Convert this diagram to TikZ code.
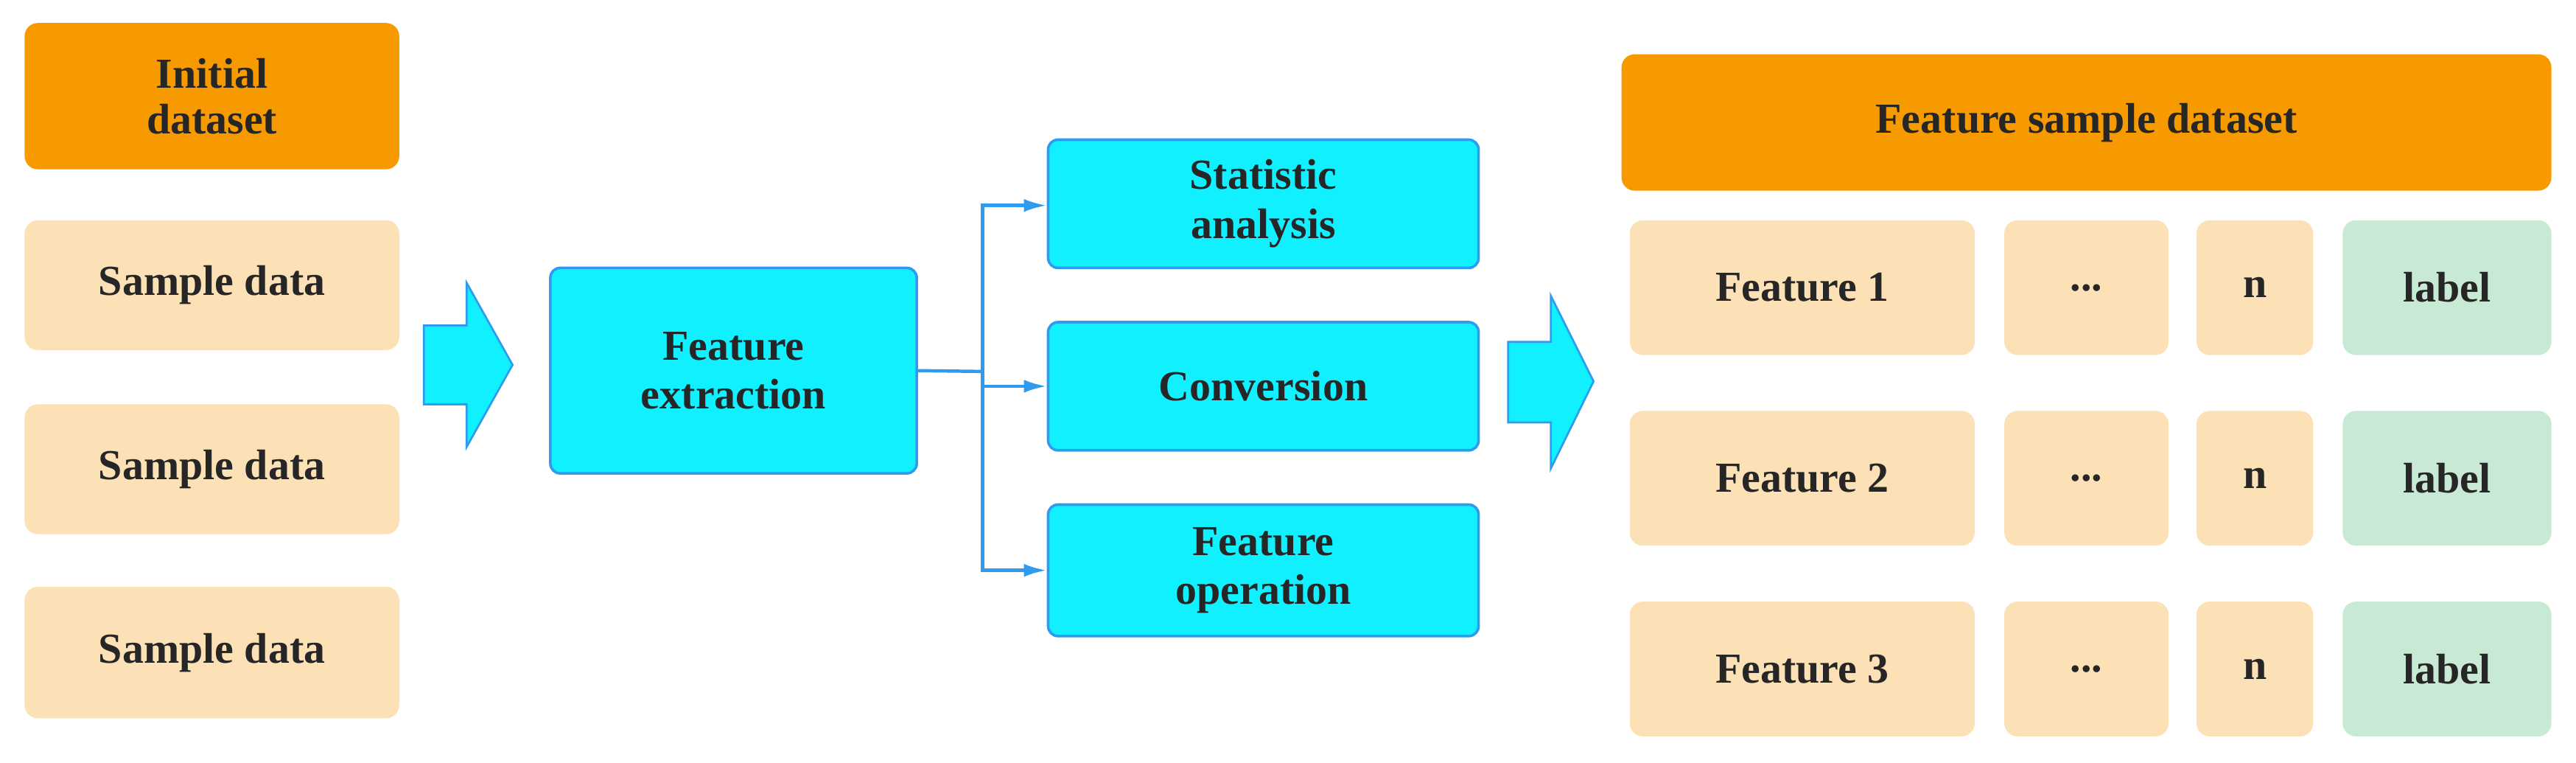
\documentclass[tikz,border=0pt]{standalone}
\usepackage{fontspec}
\setmainfont{Liberation Serif}
\usetikzlibrary{arrows.meta}
\definecolor{org}{HTML}{F79A00}
\definecolor{peach}{HTML}{FDE1B6}
\definecolor{cyn}{HTML}{11F0FF}
\definecolor{cbd}{HTML}{2E9BEF}
\definecolor{grn}{HTML}{C8E9D3}
\begin{document}
\begin{tikzpicture}[x=0.5pt,y=-0.5pt,
 box/.style={rounded corners=4pt,draw=none,font=\bfseries\fontsize{13}{14}\selectfont,align=center,text=black!85},
 pk/.style={box,fill=peach},
 og/.style={box,fill=org},
 gn/.style={box,fill=grn},
 cy/.style={rounded corners=3pt,draw=cbd,line width=0.8pt,fill=cyn,font=\bfseries\fontsize{13}{15}\selectfont,align=center,text=black!85},
 ar/.style={draw=cbd,line width=1pt,-{Latex[length=7pt,width=4pt]}},
 blk/.style={fill=cyn,draw=cbd,line width=0.6pt}]
\useasboundingbox (0,0) rectangle (1568,464);
\newcommand\bx[6]{\node[#1,minimum width=#4*0.5pt-#2*0.5pt,minimum height=#5*0.5pt-#3*0.5pt] (#6) at ({(#2+#4)/2},{(#3+#5)/2})}
\bx{og}{15}{14}{243}{103}{init}{Initial\\dataset};
\bx{pk}{15}{134}{243}{213}{s1}{Sample data};
\bx{pk}{15}{246}{243}{325}{s2}{Sample data};
\bx{pk}{15}{357}{243}{437}{s3}{Sample data};
\draw[blk] (258,198)--(284,198)--(284,172)--(312,222)--(284,272)--(284,246)--(258,246)--cycle;
\bx{cy}{335}{163}{558}{288}{fe}{Feature\\extraction};
\bx{cy}{638}{85}{900}{163}{sa}{Statistic\\analysis};
\bx{cy}{638}{196}{900}{274}{cv}{Conversion};
\bx{cy}{638}{307}{900}{387}{fo}{Feature\\operation};
\coordinate (j) at (598,226);
\draw[draw=cbd,line width=1pt] (fe.east) -- (j);
\draw[ar] (j) |- (sa.west|-0,125);
\draw[ar] (j) |- (cv.west);
\draw[ar] (j) |- (fo.west|-0,347);
\draw[blk] (918,208)--(944,208)--(944,180)--(970,232)--(944,285)--(944,257)--(918,257)--cycle;
\bx{og}{987}{33}{1553}{116}{fsd}{Feature sample dataset};
\foreach \i/\a/\b in {1/134/216,2/250/332,3/366/448}{
 \bx{pk}{992}{\a}{1202}{\b}{f\i}{Feature \i};
 \bx{pk}{1220}{\a}{1320}{\b}{d\i}{...};
 \bx{pk}{1337}{\a}{1408}{\b}{n\i}{n};
 \bx{gn}{1426}{\a}{1553}{\b}{l\i}{label};
}
\end{tikzpicture}
\end{document}
